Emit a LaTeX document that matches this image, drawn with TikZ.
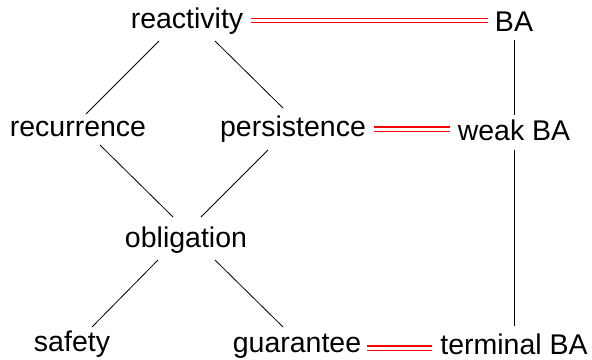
\documentclass[tikz,border=0pt]{standalone}
\usepackage{fontspec}
\setmainfont{Liberation Sans}
\usetikzlibrary{calc}
\begin{document}
\begin{tikzpicture}[x=1pt,y=-1pt,
  lbl/.style={anchor=base,inner sep=0pt,font=\fontsize{28.5}{34}\selectfont},
  edge/.style={draw=black,line width=0.8pt},
  equiv/.style={draw=red,double=white,double distance=3pt,line width=1.4pt}]
\useasboundingbox (0,0) rectangle (592,359);
% classes of the hierarchy
\node[lbl] (react) at (187,28) {reactivity};
\node[lbl] (rec)   at (78,136)  {recurrence};
\node[lbl] (pers)  at (293,136) {persistence};
\node[lbl] (obl)   at (186,247) {obligation};
\node[lbl] (safe)  at (72,351)  {safety};
\node[lbl] (guar)  at (297,352) {guarantee};
% automaton classes
\node[lbl] (ba)    at (514,31)  {BA};
\node[lbl] (wba)   at (514,140) {weak BA};
\node[lbl] (tba)   at (514,354) {terminal BA};
% inclusions
\draw[edge] ($(react.base)+(-28,13)$) -- ($(rec.base)+(8,-22)$);
\draw[edge] ($(react.base)+(28,13)$)  -- ($(pers.base)+(-10,-28)$);
\draw[edge] ($(rec.base)+(22,9)$)     -- ($(obl.base)+(-13,-30)$);
\draw[edge] ($(pers.base)+(-25,14)$)  -- ($(obl.base)+(15,-30)$);
\draw[edge] ($(obl.base)+(-28,13)$)   -- ($(safe.base)+(20,-24)$);
\draw[edge] ($(obl.base)+(29,13)$)    -- ($(guar.base)+(-14,-25)$);
\draw[edge] ($(ba.base)+(0,9)$)       -- ($(wba.base)+(0,-25)$);
\draw[edge] ($(wba.base)+(0,10)$)     -- ($(tba.base)+(0,-28)$);
% correspondences
\draw[equiv] ($(react.base east)+(8,-7.5)$) -- ($(ba.base west)+(-7,-10.5)$);
\draw[equiv] ($(pers.base east)+(8,-7)$)    -- ($(wba.base west)+(-8,-11)$);
\draw[equiv] ($(guar.base east)+(6,-4)$)    -- ($(tba.base west)+(-8,-6)$);
\end{tikzpicture}
\end{document}
